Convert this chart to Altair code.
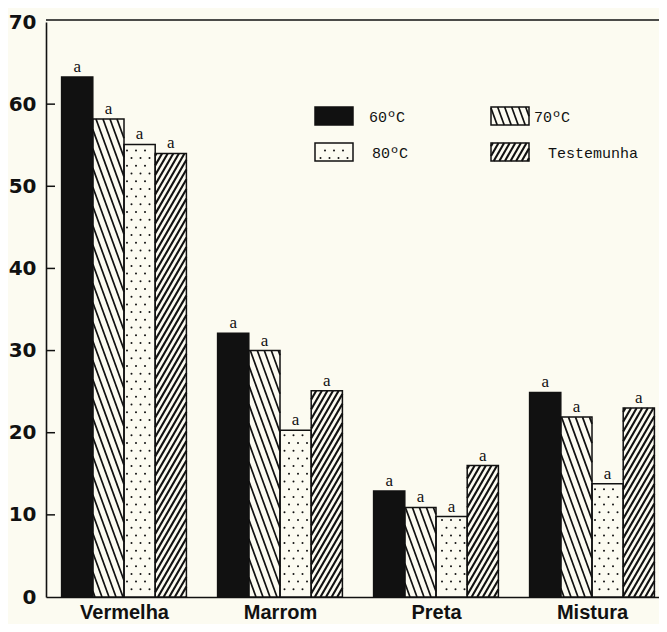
import json
import math
import pandas as pd
import altair as alt

# ---------------- data ----------------
categories = ["Vermelha", "Marrom", "Preta", "Mistura"]
series = ["60ºC", "70ºC", "80ºC", "Testemunha"]
v60 = [63.3, 32.1, 12.9, 24.9]
v70 = [58.2, 30.0, 10.9, 21.9]
v80 = [55.1, 20.3, 9.8, 13.8]
vtest = [54.0, 25.1, 16.0, 23.0]
letters60 = ["a", "a", "a", "a"]
letters70 = ["a", "a", "a", "a"]
letters80 = ["a", "a", "a", "a"]
letterstest = ["a", "a", "a", "a"]
y_ticks = [0, 10, 20, 30, 40, 50, 60, 70]

# ---------------- layout / style ----------------
W, H = 613, 575
PAD = {"left": 38, "top": 14, "right": 0, "bottom": 27}
ORIGIN_X = 8 + PAD["left"]          # page x of the y axis
ORIGIN_Y = 8 + PAD["top"] + H       # page y of the x axis
PITCH = 156.0                        # px per category
XMAX = W / PITCH
YMAX = 70
XPX = PITCH
YPX = H / YMAX
BG = "#fcfbf1"
INK = "#111111"
BAR_FRAC = 0.2
STYLE = {
    "60ºC": ("solid",),
    "70ºC": ("hatch", 70, 7.0, 1.7, "\\"),
    "80ºC": ("dots", 9.0, 7.7),
    "Testemunha": ("hatch", 60, 5.6, 2.1, "/"),
}

values = {"60ºC": v60, "70ºC": v70, "80ºC": v80, "Testemunha": vtest}
letters = {"60ºC": letters60, "70ºC": letters70, "80ºC": letters80, "Testemunha": letterstest}


def hatch(x0, x1, y0, y1, angle, spacing, direction):
    """Line segments (pixel space, y up) clipped to a rectangle."""
    k = 1.0 / math.tan(math.radians(angle))
    segs = []
    if direction == "/":
        cmin, cmax = x0 - y1 * k, x1 - y0 * k
        for n in range(math.ceil(cmin / spacing), math.floor(cmax / spacing) + 1):
            c = n * spacing
            ya = max(y0, (x0 - c) / k)
            yb = min(y1, (x1 - c) / k)
            if yb - ya > 0.5:
                segs.append((c + ya * k, ya, c + yb * k, yb))
    else:
        cmin, cmax = x0 + y0 * k, x1 + y1 * k
        for n in range(math.ceil(cmin / spacing), math.floor(cmax / spacing) + 1):
            c = n * spacing
            ya = max(y0, (c - x1) / k)
            yb = min(y1, (c - x0) / k)
            if yb - ya > 0.5:
                segs.append((c - ya * k, ya, c - yb * k, yb))
    return segs


def dots(x0, x1, y0, y1, dx, dy, margin=2.5):
    pts = []
    for r in range(math.ceil((y0 + margin) / dy), math.floor((y1 - margin) / dy) + 1):
        off = (r % 2) * dx / 2
        for n in range(math.floor((x0 - off) / dx) - 1, math.ceil((x1 - off) / dx) + 2):
            x = n * dx + off
            if x0 + margin <= x <= x1 - margin:
                pts.append((x, r * dy))
    return pts


rects, lines, points, texts = [], [], [], []


def add_box(ser, px0, px1, py0, py1):
    """Box in pixel space (y up from x axis)."""
    rects.append({"x0": px0 / XPX, "x1": px1 / XPX, "y0": py0 / YPX, "y1": py1 / YPX, "s": ser})
    st = STYLE[ser]
    if st[0] == "hatch":
        for (a, b, c, d) in hatch(px0, px1, py0, py1, st[1], st[2], st[4]):
            lines.append({"x": a / XPX, "y": b / YPX, "x2": c / XPX, "y2": d / YPX, "w": st[3]})
    elif st[0] == "dots":
        for (a, b) in dots(px0, px1, py0, py1, st[1], st[2]):
            points.append({"x": a / XPX, "y": b / YPX})


# bars
for i, cat in enumerate(categories):
    for j, ser in enumerate(series):
        x0 = i + (1 - 4 * BAR_FRAC) / 2 + j * BAR_FRAC
        v = values[ser][i]
        add_box(ser, x0 * XPX, (x0 + BAR_FRAC) * XPX, 0, v * YPX)
        texts.append({"x": x0 + BAR_FRAC / 2, "y": v, "t": letters[ser][i]})

# legend (page coordinates of swatches)
legend_cols = [315, 491]
legend_rows = [107, 143]
SW_W, SW_H = 38, 18
legend_label_dx = [16, 5, 19, 19]
legend_text = []
for k, ser in enumerate(series):
    px = legend_cols[k % 2] - ORIGIN_X
    top = legend_rows[k // 2]
    py1 = ORIGIN_Y - top
    py0 = py1 - SW_H
    add_box(ser, px, px + SW_W, py0, py1)
    legend_text.append({"x": (px + SW_W + legend_label_dx[k]) / XPX,
                        "y": (py1 - SW_H / 2 - 1) / YPX, "t": ser})

rect_df = pd.DataFrame(rects)
line_df = pd.DataFrame(lines)
dot_df = pd.DataFrame(points)
text_df = pd.DataFrame(texts)
leg_df = pd.DataFrame(legend_text)
tick_df = pd.DataFrame({"v": [t for t in y_ticks if 0 < t < YMAX]})

xscale = alt.Scale(domain=[0, XMAX], nice=False, zero=False)
yscale = alt.Scale(domain=[0, YMAX], nice=False, zero=False)

label_expr = json.dumps(categories) + "[floor(datum.value)]"

AX_X = alt.Axis(values=[i + 0.5 for i in range(len(categories))],
                labelExpr=label_expr, ticks=False, grid=False, title=None,
                domainColor=INK, domainWidth=1.6, labelColor=INK,
                labelFont="Liberation Sans", labelFontSize=20,
                labelFontWeight="bold", labelPadding=5,
                labelFlush=False, labelOverlap=False)
AX_Y = alt.Axis(values=y_ticks, ticks=False, grid=False, title=None,
                domainColor=INK, domainWidth=1.6, labelColor=INK,
                labelFont="DejaVu Sans", labelFontSize=20,
                labelFontWeight="bold", labelPadding=10,
                labelOverlap=False)


def X(f):
    return alt.X(f, scale=xscale, axis=AX_X)


def Y(f):
    return alt.Y(f, scale=yscale, axis=AX_Y)


fills = alt.Chart(rect_df).mark_rect(strokeWidth=0).encode(
    x=X("x0:Q"), x2="x1", y=Y("y0:Q"), y2="y1",
    fill=alt.Fill("s:N", scale=alt.Scale(domain=series, range=[INK, BG, BG, BG]), legend=None),
)

hatch_layer = alt.Chart(line_df).mark_rule(color=INK, strokeCap="butt").encode(
    x=X("x:Q"), y=Y("y:Q"), x2="x2", y2="y2",
    strokeWidth=alt.StrokeWidth("w:Q", scale=None),
)

dot_layer = alt.Chart(dot_df).mark_circle(size=4, color=INK, opacity=1).encode(
    x=X("x:Q"), y=Y("y:Q"),
)

outline = alt.Chart(rect_df).mark_rect(fill="transparent", stroke=INK, strokeWidth=1.5).encode(
    x=X("x0:Q"), x2="x1", y=Y("y0:Q"), y2="y1",
)

letter_layer = alt.Chart(text_df).mark_text(
    font="Liberation Serif", fontSize=17, baseline="alphabetic", dy=-5, color=INK
).encode(x=X("x:Q"), y=Y("y:Q"), text="t:N")

legend_layer = alt.Chart(leg_df).mark_text(
    font="Liberation Mono", fontSize=15, align="left", baseline="middle", color=INK
).encode(x=X("x:Q"), y=Y("y:Q"), text="t:N")

tick_layer = alt.Chart(tick_df).mark_rule(color=INK, strokeWidth=1.5).encode(
    y=Y("v:Q"), x=alt.value(0), x2=alt.value(9),
)

top_border = alt.Chart(alt.Data(values=[{}])).mark_rule(color=INK, strokeWidth=1.6).encode(
    y=alt.value(-2), x=alt.value(0), x2=alt.value(W),
)

chart = alt.layer(
    fills, hatch_layer, dot_layer, outline, letter_layer, legend_layer, tick_layer, top_border
).properties(
    width=W, height=H, background=BG, padding=PAD,
    autosize=alt.AutoSizeParams(type="none"),
).configure_view(stroke=None)

chart.save("out.html", embed_options={"renderer": "svg", "actions": False})
